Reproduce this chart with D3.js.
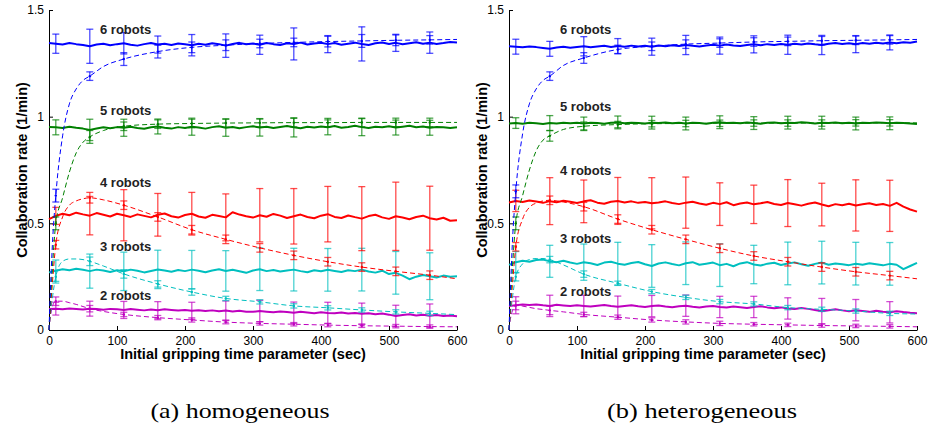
<!DOCTYPE html>
<html>
<head>
<meta charset="utf-8">
<script src="https://cdn.jsdelivr.net/npm/d3@7"></script>
<style>
  body { margin: 0; background: #fff; }
</style>
</head>
<body>
<div class="chart"></div>
<script>
// series order: 2, 3, 4, 5, 6 robots
const robotLabels = ["2 robots", "3 robots", "4 robots", "5 robots", "6 robots"];
const colors = ["#bf00bf", "#00bfbf", "#ff0000", "#008000", "#0000ff"];
const xTicks = [0, 100, 200, 300, 400, 500, 600];
const yTicks = [0, 0.5, 1, 1.5];
const captions = ["(a) homogeneous", "(b) heterogeneous"];

const solidTimes = d3.range(0, 601, 10);
const dashTimes = [0, 2, 5, 10, 20, 30, 40, 50, 60, 80, 110, 160, 210, 260, 310, 360, 410, 460, 510, 560, 600];
const barTimes = [10, 60, 110, 160, 210, 260, 310, 360, 410, 460, 510, 560];

// ---- homogeneous, solid (every 10 s)
const hom2 = [0.098,0.100,0.097,0.101,0.099,0.096,0.100,0.098,0.095,0.099,
  0.097,0.094,0.098,0.095,0.092,0.096,0.093,0.097,0.094,0.091,
  0.094,0.090,0.093,0.089,0.092,0.088,0.091,0.087,0.090,0.086,
  0.085,0.089,0.086,0.083,0.087,0.084,0.081,0.085,0.082,0.079,
  0.083,0.080,0.078,0.082,0.077,0.080,0.076,0.079,0.074,0.077,
  0.072,0.066,0.070,0.074,0.068,0.072,0.067,0.070,0.066,0.068,
  0.065];
const hom3 = [0.270,0.278,0.285,0.280,0.287,0.282,0.276,0.283,0.279,0.272,
  0.280,0.275,0.283,0.278,0.270,0.277,0.284,0.279,0.273,0.281,
  0.276,0.283,0.278,0.271,0.279,0.285,0.277,0.282,0.275,0.268,
  0.279,0.285,0.276,0.281,0.274,0.279,0.283,0.276,0.271,0.280,
  0.275,0.282,0.277,0.272,0.280,0.276,0.283,0.274,0.269,0.278,
  0.262,0.268,0.255,0.238,0.250,0.258,0.252,0.246,0.255,0.250,
  0.252];
const hom4 = [0.520,0.535,0.545,0.538,0.550,0.542,0.536,0.548,0.540,0.532,
  0.545,0.538,0.530,0.542,0.535,0.528,0.540,0.546,0.533,0.527,
  0.539,0.545,0.532,0.526,0.540,0.534,0.528,0.552,0.541,0.533,
  0.527,0.538,0.531,0.544,0.536,0.525,0.533,0.541,0.530,0.524,
  0.536,0.543,0.530,0.525,0.537,0.529,0.522,0.534,0.540,0.528,
  0.521,0.533,0.527,0.519,0.530,0.536,0.524,0.518,0.526,0.512,
  0.515];
const hom5 = [0.952,0.950,0.947,0.953,0.948,0.944,0.938,0.945,0.950,0.946,
  0.951,0.948,0.953,0.947,0.943,0.950,0.954,0.948,0.944,0.951,
  0.947,0.953,0.949,0.944,0.951,0.955,0.948,0.952,0.946,0.951,
  0.955,0.949,0.953,0.947,0.952,0.956,0.950,0.946,0.953,0.949,
  0.954,0.950,0.956,0.948,0.952,0.957,0.951,0.947,0.953,0.950,
  0.955,0.949,0.953,0.957,0.950,0.954,0.948,0.952,0.950,0.947,
  0.950];
const hom6 = [1.345,1.342,1.338,1.345,1.340,1.336,1.330,1.338,1.342,1.335,
  1.340,1.344,1.337,1.333,1.340,1.345,1.338,1.342,1.336,1.343,
  1.339,1.335,1.342,1.337,1.344,1.340,1.333,1.341,1.346,1.339,
  1.343,1.337,1.345,1.340,1.336,1.344,1.341,1.347,1.338,1.343,
  1.346,1.340,1.345,1.337,1.342,1.347,1.341,1.336,1.344,1.348,
  1.341,1.346,1.339,1.344,1.349,1.342,1.347,1.341,1.345,1.350,
  1.348];

// ---- homogeneous, dashed (at dashTimes)
const hom2Dash = [0, 0.06, 0.11, 0.135, 0.135, 0.128, 0.12, 0.11, 0.10, 0.087, 0.073, 0.058, 0.047, 0.037, 0.031, 0.027, 0.023, 0.020, 0.018, 0.016, 0.015];
const hom3Dash = [0, 0.07, 0.15, 0.25, 0.322, 0.333, 0.333, 0.33, 0.322, 0.30, 0.263, 0.216, 0.178, 0.148, 0.132, 0.113, 0.104, 0.094, 0.085, 0.078, 0.072];
const hom4Dash = [0, 0.09, 0.22, 0.40, 0.53, 0.585, 0.605, 0.615, 0.62, 0.61, 0.585, 0.53, 0.47, 0.425, 0.385, 0.35, 0.32, 0.295, 0.275, 0.257, 0.24];
const hom5Dash = [0, 0.12, 0.29, 0.50, 0.62, 0.74, 0.83, 0.88, 0.905, 0.935, 0.955, 0.965, 0.968, 0.97, 0.971, 0.972, 0.972, 0.973, 0.973, 0.973, 0.973];
const hom6Dash = [0, 0.18, 0.40, 0.63, 0.91, 1.06, 1.13, 1.17, 1.19, 1.235, 1.27, 1.305, 1.325, 1.335, 1.343, 1.348, 1.352, 1.355, 1.358, 1.36, 1.362];

// ---- homogeneous, error half-widths at barTimes
const hom2Err = [0.03, 0.035, 0.04, 0.04, 0.04, 0.045, 0.05, 0.05, 0.05, 0.05, 0.05, 0.055];
const hom3Err = [0.05, 0.08, 0.09, 0.09, 0.09, 0.095, 0.10, 0.10, 0.10, 0.10, 0.10, 0.11];
const hom4Err = [0.04, 0.09, 0.12, 0.10, 0.10, 0.11, 0.125, 0.13, 0.13, 0.15, 0.16, 0.15];
const hom5Err = [0.035, 0.05, 0.04, 0.035, 0.04, 0.04, 0.04, 0.045, 0.035, 0.04, 0.035, 0.035];
const hom6Err = [0.045, 0.08, 0.05, 0.04, 0.05, 0.055, 0.045, 0.075, 0.04, 0.08, 0.04, 0.05];
const hom2DashErr = [0.02, 0.015, 0.01, 0.01, 0.01, 0.008, 0.008, 0.008, 0.008, 0.008, 0.008, 0.008];
const hom3DashErr = [0.03, 0.02, 0.02, 0.015, 0.015, 0.01, 0.01, 0.01, 0.01, 0.01, 0.01, 0.01];
const hom4DashErr = [0.02, 0.025, 0.02, 0.02, 0.02, 0.02, 0.02, 0.02, 0.02, 0.02, 0.02, 0.02];
const hom5DashErr = [0.03, 0.03, 0.02, 0.02, 0.02, 0.02, 0.02, 0.02, 0.02, 0.02, 0.02, 0.02];
const hom6DashErr = [0.03, 0.02, 0.03, 0.03, 0.025, 0.025, 0.02, 0.02, 0.025, 0.03, 0.025, 0.02];

// ---- heterogeneous, solid
const het2 = [0.112,0.116,0.119,0.117,0.120,0.116,0.113,0.118,0.115,0.112,
  0.116,0.113,0.110,0.114,0.117,0.112,0.109,0.113,0.116,0.111,
  0.108,0.112,0.115,0.110,0.107,0.111,0.114,0.109,0.106,0.110,
  0.113,0.108,0.105,0.110,0.107,0.103,0.108,0.111,0.106,0.102,
  0.106,0.101,0.098,0.103,0.099,0.094,0.088,0.093,0.097,0.092,
  0.088,0.093,0.089,0.085,0.090,0.086,0.083,0.088,0.084,0.081,
  0.079];
const het3 = [0.305,0.318,0.325,0.320,0.328,0.330,0.322,0.318,0.325,0.316,
  0.310,0.318,0.313,0.305,0.316,0.320,0.311,0.306,0.314,0.319,
  0.308,0.300,0.312,0.317,0.309,0.303,0.313,0.318,0.306,0.311,
  0.316,0.304,0.310,0.299,0.312,0.318,0.307,0.302,0.311,0.315,
  0.305,0.312,0.317,0.308,0.301,0.310,0.316,0.306,0.312,0.308,
  0.304,0.311,0.306,0.313,0.308,0.303,0.310,0.306,0.285,0.300,
  0.315];
const het4 = [0.598,0.605,0.600,0.607,0.602,0.596,0.604,0.599,0.606,0.601,
  0.595,0.603,0.608,0.597,0.592,0.601,0.605,0.598,0.603,0.596,
  0.600,0.594,0.598,0.603,0.595,0.590,0.597,0.601,0.593,0.587,
  0.596,0.590,0.599,0.585,0.593,0.598,0.589,0.594,0.600,0.591,
  0.586,0.595,0.589,0.583,0.592,0.598,0.588,0.580,0.590,0.585,
  0.592,0.584,0.589,0.594,0.586,0.591,0.582,0.596,0.578,0.565,
  0.555];
const het5 = [0.968,0.970,0.967,0.971,0.969,0.966,0.970,0.968,0.972,0.969,
  0.971,0.968,0.972,0.970,0.967,0.971,0.973,0.969,0.972,0.970,
  0.968,0.972,0.970,0.973,0.969,0.971,0.968,0.972,0.970,0.967,
  0.971,0.974,0.970,0.972,0.969,0.973,0.970,0.967,0.971,0.973,
  0.969,0.972,0.970,0.974,0.971,0.968,0.972,0.970,0.973,0.969,
  0.971,0.968,0.972,0.970,0.973,0.971,0.969,0.972,0.970,0.968,
  0.966];
const het6 = [1.330,1.328,1.325,1.329,1.326,1.322,1.318,1.324,1.328,1.323,
  1.327,1.330,1.325,1.329,1.332,1.327,1.331,1.328,1.333,1.329,
  1.332,1.328,1.334,1.330,1.335,1.331,1.336,1.332,1.329,1.334,
  1.337,1.333,1.338,1.334,1.331,1.336,1.339,1.335,1.340,1.336,
  1.341,1.337,1.342,1.338,1.343,1.339,1.336,1.342,1.345,1.341,
  1.344,1.340,1.345,1.342,1.347,1.343,1.348,1.344,1.349,1.346,
  1.352];

// ---- heterogeneous, dashed
const het2Dash = [0, 0.05, 0.09, 0.115, 0.112, 0.106, 0.10, 0.096, 0.092, 0.085, 0.073, 0.06, 0.047, 0.038, 0.031, 0.027, 0.024, 0.021, 0.019, 0.017, 0.015];
const het3Dash = [0, 0.07, 0.15, 0.25, 0.31, 0.33, 0.335, 0.335, 0.33, 0.305, 0.262, 0.219, 0.18, 0.153, 0.133, 0.122, 0.105, 0.097, 0.089, 0.078, 0.075];
const het4Dash = [0, 0.09, 0.21, 0.39, 0.52, 0.575, 0.595, 0.605, 0.608, 0.60, 0.578, 0.52, 0.47, 0.425, 0.383, 0.347, 0.32, 0.295, 0.273, 0.255, 0.24];
const het5Dash = [0, 0.12, 0.29, 0.50, 0.63, 0.75, 0.84, 0.89, 0.91, 0.94, 0.955, 0.963, 0.967, 0.968, 0.969, 0.97, 0.97, 0.97, 0.971, 0.971, 0.971];
const het6Dash = [0, 0.18, 0.41, 0.65, 0.92, 1.06, 1.13, 1.17, 1.19, 1.24, 1.275, 1.315, 1.33, 1.34, 1.345, 1.35, 1.353, 1.356, 1.358, 1.36, 1.362];

const het2Err = [0.04, 0.05, 0.05, 0.05, 0.05, 0.05, 0.05, 0.05, 0.05, 0.06, 0.05, 0.05];
const het3Err = [0.05, 0.075, 0.085, 0.10, 0.10, 0.10, 0.10, 0.09, 0.10, 0.10, 0.10, 0.10];
const het4Err = [0.05, 0.11, 0.10, 0.11, 0.12, 0.12, 0.10, 0.09, 0.11, 0.10, 0.12, 0.12];
const het5Err = [0.025, 0.035, 0.03, 0.03, 0.03, 0.03, 0.03, 0.03, 0.03, 0.03, 0.03, 0.03];
const het6Err = [0.035, 0.035, 0.045, 0.035, 0.04, 0.045, 0.04, 0.04, 0.045, 0.045, 0.04, 0.035];
const het2DashErr = [0.02, 0.02, 0.01, 0.01, 0.01, 0.01, 0.01, 0.008, 0.008, 0.008, 0.008, 0.008];
const het3DashErr = [0.02, 0.015, 0.015, 0.01, 0.01, 0.01, 0.01, 0.01, 0.01, 0.01, 0.01, 0.01];
const het4DashErr = [0.02, 0.02, 0.02, 0.02, 0.02, 0.02, 0.02, 0.02, 0.02, 0.02, 0.02, 0.02];
const het5DashErr = [0.03, 0.025, 0.02, 0.015, 0.015, 0.015, 0.015, 0.015, 0.015, 0.015, 0.015, 0.015];
const het6DashErr = [0.03, 0.02, 0.025, 0.02, 0.02, 0.02, 0.02, 0.02, 0.02, 0.02, 0.02, 0.02];

const panels = [
  {
    left: 49, solid: [hom2, hom3, hom4, hom5, hom6],
    dash: [hom2Dash, hom3Dash, hom4Dash, hom5Dash, hom6Dash],
    err: [hom2Err, hom3Err, hom4Err, hom5Err, hom6Err],
    dashErr: [hom2DashErr, hom3DashErr, hom4DashErr, hom5DashErr, hom6DashErr],
    labelY: [0.164, 0.39, 0.69, 1.03, 1.41], caption: captions[0], capX: 240, capW: 179
  },
  {
    left: 509, solid: [het2, het3, het4, het5, het6],
    dash: [het2Dash, het3Dash, het4Dash, het5Dash, het6Dash],
    err: [het2Err, het3Err, het4Err, het5Err, het6Err],
    dashErr: [het2DashErr, het3DashErr, het4DashErr, het5DashErr, het6DashErr],
    labelY: [0.18, 0.427, 0.747, 1.05, 1.41], caption: captions[1], capX: 702, capW: 190
  }
];

const W = 928, H = 430;
const plotW = 408, plotTop = 10, plotBottom = 330;
const sans = "'Liberation Sans', Arial, Helvetica, sans-serif";

const svg = d3.select(".chart").append("svg")
  .attr("width", W).attr("height", H)
  .style("font-family", sans);

const y = d3.scaleLinear().domain([0, 1.5]).range([plotBottom, plotTop]);

panels.forEach(p => {
  const x = d3.scaleLinear().domain([0, 600]).range([p.left, p.left + plotW]);
  const g = svg.append("g");

  const xAxis = d3.axisBottom(x).tickValues(xTicks).tickSizeInner(-4).tickSizeOuter(0).tickPadding(6);
  const xAxisG = g.append("g").attr("transform", `translate(0,${plotBottom})`).call(xAxis);
  const yAxis = d3.axisLeft(y).tickValues(yTicks).tickSizeInner(-4).tickSizeOuter(0).tickPadding(5)
    .tickFormat(d => d === 0 ? "0" : d3.format("~g")(d));
  const yAxisG = g.append("g").attr("transform", `translate(${p.left},0)`).call(yAxis);
  [xAxisG, yAxisG].forEach(a => {
    a.selectAll("text").attr("font-size", 12).attr("fill", "#000").style("font-family", sans);
    a.selectAll("line, path").attr("stroke", "#000");
  });

  g.append("text")
    .attr("x", p.left + plotW / 2 - 10).attr("y", 359)
    .attr("text-anchor", "middle").attr("font-size", 14.5).attr("font-weight", "bold")
    .text("Initial gripping time parameter (sec)");
  g.append("text")
    .attr("transform", `translate(${p.left - 22},170) rotate(-90)`)
    .attr("text-anchor", "middle").attr("font-size", 14.5).attr("font-weight", "bold")
    .text("Collaboration rate (1/min)");

  const solidLine = d3.line().x((d, i) => x(solidTimes[i])).y(d => y(d));
  const dashLine = d3.line().x((d, i) => x(dashTimes[i])).y(d => y(d)).curve(d3.curveMonotoneX);

  function errBar(sel, t, c, hw, color, w) {
    const bx = x(t), cap = 3.5;
    const b = sel.append("g").attr("stroke", color).attr("stroke-opacity", 0.7).attr("stroke-width", w);
    b.append("line").attr("x1", bx).attr("x2", bx).attr("y1", y(c - hw)).attr("y2", y(c + hw));
    b.append("line").attr("x1", bx - cap).attr("x2", bx + cap).attr("y1", y(c - hw)).attr("y2", y(c - hw));
    b.append("line").attr("x1", bx - cap).attr("x2", bx + cap).attr("y1", y(c + hw)).attr("y2", y(c + hw));
  }

  for (let s = 0; s < 5; s++) {
    const color = colors[s];
    const sg = g.append("g");
    sg.append("path").datum(p.dash[s]).attr("d", dashLine)
      .attr("fill", "none").attr("stroke", color).attr("stroke-width", 1)
      .attr("stroke-dasharray", "5,3");
    barTimes.forEach((t, i) => {
      const c = p.dash[s][dashTimes.indexOf(t)];
      errBar(sg, t, c, p.dashErr[s][i], color, 1.3);
      sg.append("circle").attr("cx", x(t)).attr("cy", y(c)).attr("r", 1.2).attr("fill", color);
    });
    sg.append("path").datum(p.solid[s]).attr("d", solidLine)
      .attr("fill", "none").attr("stroke", color).attr("stroke-width", 2)
      .attr("stroke-linejoin", "round");
    barTimes.forEach((t, i) => {
      errBar(sg, t, p.solid[s][solidTimes.indexOf(t)], p.err[s][i], color, 1.3);
    });
  }

  robotLabels.forEach((lab, s) => {
    g.append("text")
      .attr("x", x(75)).attr("y", y(p.labelY[s])).attr("dy", "0.35em")
      .attr("font-size", 13).attr("font-weight", "bold").attr("fill", "#222")
      .text(lab);
  });

  svg.append("text")
    .attr("x", p.capX).attr("y", 418).attr("text-anchor", "middle")
    .attr("font-size", 22).style("font-family", "'Liberation Serif', 'Times New Roman', serif")
    .attr("textLength", p.capW).attr("lengthAdjust", "spacingAndGlyphs")
    .text(p.caption);
});
</script>
</body>
</html>
